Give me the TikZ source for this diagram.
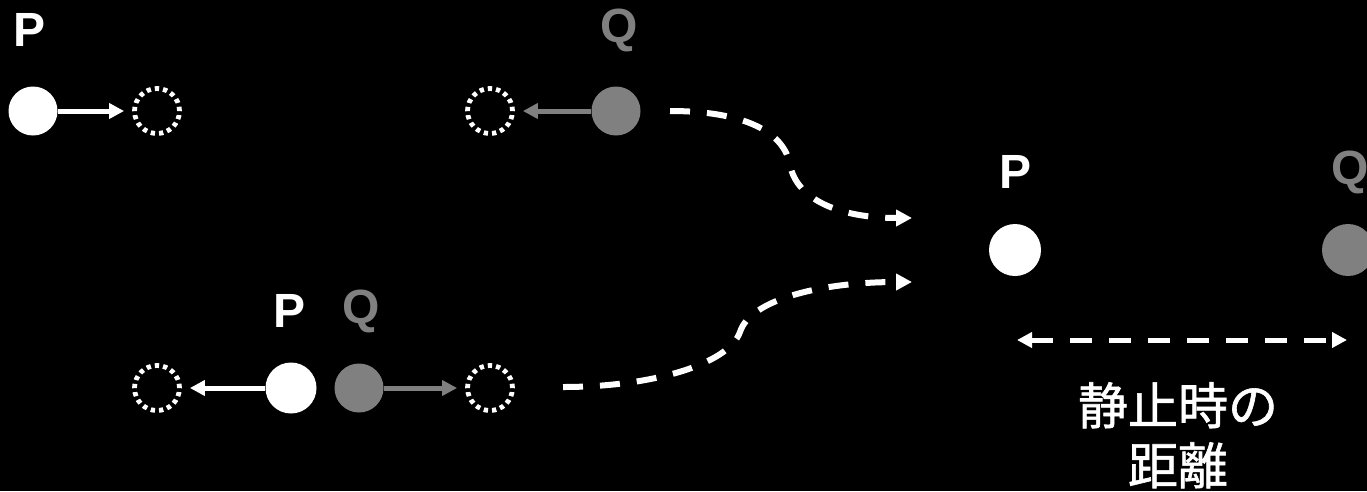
\documentclass[tikz,border=0pt]{standalone}
\usepackage{fontspec}
\setmainfont{Liberation Sans}
\newfontfamily\cjk[FakeBold=1.2]{Noto Sans CJK JP}
\usetikzlibrary{arrows.meta}
\definecolor{qgray}{HTML}{808080}
\tikzset{
  x=1pt,y=-1pt,
  pball/.style={circle,fill=white,inner sep=0pt,minimum size=49pt},
  qball/.style={circle,fill=qgray,inner sep=0pt,minimum size=49pt},
  ghost/.style={circle,draw=white,line width=4.8pt,dash pattern=on 4.3pt off 4pt,inner sep=0pt,minimum size=45pt},
  lbl/.style={font=\fontsize{48}{50}\selectfont\bfseries,inner sep=0pt},
  warrow/.style={draw=white,line width=5pt,-{Triangle[length=15pt,width=15pt]}},
  garrow/.style={draw=qgray,line width=5pt,-{Triangle[length=15pt,width=15pt]}},
  flow/.style={draw=white,line width=6pt,dash pattern=on 20pt off 17pt,-{Triangle[length=16pt,width=16pt]}},
}
\begin{document}
\begin{tikzpicture}
\fill[black] (0,0) rectangle (1367,491);
\useasboundingbox (0,0) rectangle (1367,491);
% top-left P
\node[lbl,text=white] (lp1) at (30,30) {P};
\node[pball] (p1) at (33,111) {};
\node[ghost] (p1d) at (157,111) {};
\draw[warrow,shorten >=8pt] (p1.east) -- (p1d.west);
% top Q
\node[lbl,text=qgray] (lq1) at (619,30) {Q};
\node[qball] (q1) at (616,111) {};
\node[ghost] (q1d) at (490,111) {};
\draw[garrow,shorten >=8pt] (q1.west) -- (q1d.east);
% bottom pair
\node[lbl,text=white] (lp2) at (290,311) {P};
\node[lbl,text=qgray] (lq2) at (361,311) {Q};
\node[pball,minimum size=51pt] (p2) at (291,388) {};
\node[qball] (q2) at (359,388) {};
\node[ghost] (p2d) at (157,388) {};
\node[ghost] (q2d) at (490,388) {};
\draw[warrow,shorten >=8pt] (p2.west) -- (p2d.east);
\draw[garrow,shorten >=8pt] (q2.east) -- (q2d.west);
% right rest state
\node[lbl,text=white] (lp3) at (1015,172) {P};
\node[lbl,text=qgray] (lq3) at (1350,172) {Q};
\node[pball,minimum size=52pt] (p3) at (1015,250) {};
\node[qball,minimum size=52pt] (q3) at (1348,250) {};
\coordinate (da) at (1017,340);
\coordinate (db) at (1347,340);
\draw[draw=white,line width=5pt,dash pattern=on 22pt off 17pt,{Triangle[length=15pt,width=15pt]}-{Triangle[length=15pt,width=15pt]}] (da) -- (db);
\node[font=\cjk\fontsize{50}{60}\selectfont,text=white,align=center,inner sep=0pt,anchor=north] (dist) at (1178,382) {静止時の\\距離};
% flow curves
\coordinate (c1s) at (670,111);
\coordinate (c1m) at (790,165);
\coordinate (c1e) at (912,218);
\draw[flow] (c1s) .. controls (750,111) and (785,135) .. (c1m) .. controls (797,200) and (840,218) .. (c1e);
\coordinate (c2s) at (563,387);
\coordinate (c2m) at (740,332);
\coordinate (c2e) at (912,282);
\draw[flow] (c2s) .. controls (650,387) and (728,365) .. (c2m) .. controls (750,300) and (820,282) .. (c2e);
\end{tikzpicture}
\end{document}
